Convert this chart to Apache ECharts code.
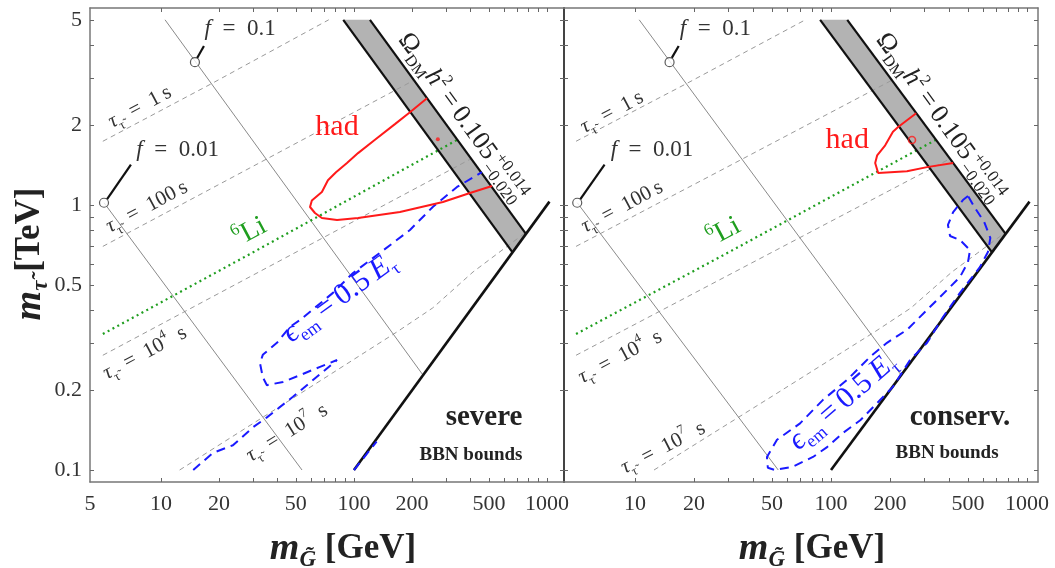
<!DOCTYPE html>
<html>
<head>
<meta charset="utf-8">
<script src="https://cdn.jsdelivr.net/npm/echarts@6.0.0/dist/echarts.min.js"></script>
<style>
html,body{margin:0;padding:0;background:#fff;}
#chart{width:1055px;height:568px;}
</style>
</head>
<body>
<div id="chart"></div>
<script>
// ---------------- data (x: gravitino mass in GeV, y: stau mass in TeV) ----------------
const X_TICK_LABELS = [5, 10, 20, 50, 100, 200, 500, 1000];
const Y_TICK_LABELS = [0.1, 0.2, 0.5, 1, 2, 5];
const X_TICKS = [10,20,30,40,50,60,70,80,90,100,200,300,400,500,600,700,800,900,1000];
const Y_TICKS = [0.1,0.2,0.3,0.4,0.5,0.6,0.7,0.8,0.9,1,2,3,4,5];

const TAU_1S   = [[5,1.74],[18.6,2.89],[74,5]];
const TAU_100S = [[5,0.698],[28.9,1.38],[205,2.96]];
const TAU_1E4S = [[5,0.271],[52.5,0.676],[408,1.50]];
const TAU_1E7S = [[12.5,0.1],[52.5,0.194],[167,0.332],[256,0.409],[414,0.559],[636,0.707],[769,0.784]];
const LI6      = [[5,0.326],[28.9,0.653],[342,1.76]];
const F_01     = [[10.5,5],[228,0.228]];
const F_001    = [[5.07,1.02],[53.8,0.1]];
const F_MARKS  = [[15.0,3.46],[5.07,1.02]];
const F_LEADER_01  = [[15.4,3.59],[16.7,3.98]];
const F_LEADER_001 = [[5.25,1.05],[6.99,1.42]];
const BAND      = [[88,5],[121,5],[778,0.778],[663,0.663]];
const BAND_LOW  = [[88,5],[663,0.663]];
const BAND_HIGH = [[121,5],[778,0.778]];
const KINEMATIC = [[100,0.1],[1030,1.03]];

const HAD_SEVERE = [[239,2.53],[195,2.24],[163,2.02],[128,1.76],[105,1.57],[92,1.44],[80.7,1.33],[73.3,1.24],[68.2,1.12],[60.5,1.04],[59.2,0.983],[62.8,0.933],[68.2,0.893],[81.7,0.878],[105,0.893],[173,0.941],[289,1.026],[399,1.11],[519,1.18]];
const HAD_SEVERE_DOT = [[272,1.77]];
const HAD_CONSERV = [[272,2.22],[220,1.97],[207,1.89],[189,1.68],[172,1.54],[168,1.44],[174,1.32],[244,1.34],[309,1.39],[420,1.44]];
const HAD_CONSERV_DOT = [[259,1.76]];

const EM_SEVERE_MAIN = [[14.7,0.1],[18.6,0.116],[23.6,0.124],[30.0,0.145],[35.4,0.158],[48.3,0.189],[81.7,0.260],[66.7,0.245],[52.5,0.228],[42.9,0.215],[35.4,0.209],[33.7,0.224],[32.6,0.253],[33.7,0.272],[39.9,0.302],[46.6,0.347],[52.5,0.368],[77.8,0.466],[98.9,0.554],[136,0.659],[195,0.805],[256,0.983],[342,1.17],[460,1.33]];
const EM_SEVERE_EDGE  = [[100,0.1],[131,0.128]];
const EM_CONSERV = [[500,1.081],[471,1.044],[420,0.941],[395,0.841],[405,0.764],[455,0.738],[512,0.676],[500,0.609],[455,0.535],[391,0.478],[309,0.402],[244,0.338],[193,0.302],[158,0.267],[121,0.219],[91,0.184],[69.5,0.150],[53,0.130],[47.1,0.112],[47.6,0.102],[51.8,0.1],[64,0.103],[80.9,0.112],[95.5,0.122],[115,0.138],[141,0.154],[172,0.179],[207,0.206],[253,0.260],[309,0.302],[373,0.378],[455,0.466],[575,0.583],[632,0.665],[650,0.751],[605,0.863],[543,0.974],[500,1.081]];

// ---------------- layout / style ----------------
const FONT = "'Liberation Serif','DejaVu Serif',serif";
const Y_MIN = 0.0901, Y_MAX = 5.54;
const PANELS = [
  {left: 90,  xMin: 4.29, xMax: 1225, showFive: true,  had: HAD_SEVERE,  hadDot: HAD_SEVERE_DOT, dotHollow: false,
   em: [EM_SEVERE_MAIN, EM_SEVERE_EDGE]},
  {left: 564, xMin: 4.34, xMax: 1138, showFive: false, had: HAD_CONSERV, hadDot: HAD_CONSERV_DOT, dotHollow: true,
   em: [EM_CONSERV]}
];
const TOP = 8, SIZE = 474;

const grids = [], xAxes = [], yAxes = [], series = [];
const PANEL_SERIES = [];
PANELS.forEach((P, p) => {
  grids.push({left: P.left, top: TOP, width: SIZE, height: SIZE, containLabel: false});
  const lblVals = X_TICK_LABELS.filter(v => P.showFive || v !== 5).map(v => v === 5 ? P.xMin * 1.0005 : v);
  const baseX = {type: 'log', logBase: 10, gridIndex: p, min: P.xMin, max: P.xMax, splitLine: {show: false},
    axisLine: {show: true, onZero: false, lineStyle: {color: '#777', width: 1.5}},
    axisTick: {show: true, inside: true, length: 4, customValues: X_TICKS, lineStyle: {color: '#666', width: 1}},
    minorTick: {show: false}};
  xAxes.push(Object.assign({}, baseX, {position: 'bottom',
    axisLabel: {show: true, customValues: lblVals, margin: 11, fontFamily: FONT, fontSize: 22, color: '#333',
      formatter: v => v < 6 ? '5' : String(+(+v).toPrecision(3))}}));
  xAxes.push(Object.assign({}, baseX, {position: 'top', axisLabel: {show: false}}));
  const baseY = {type: 'log', logBase: 10, gridIndex: p, min: Y_MIN, max: Y_MAX, splitLine: {show: false},
    axisTick: {show: true, inside: true, length: 4, customValues: Y_TICKS, lineStyle: {color: '#666', width: 1}},
    minorTick: {show: false}};
  yAxes.push(Object.assign({}, baseY, {position: 'left',
    axisLine: {show: true, onZero: false, lineStyle: {color: p === 1 ? '#444' : '#777', width: p === 1 ? 2 : 1.5}},
    axisLabel: {show: p === 0, customValues: Y_TICK_LABELS, margin: 8, fontFamily: FONT, fontSize: 22, color: '#333',
      formatter: v => String(+(+v).toPrecision(3))}}));
  yAxes.push(Object.assign({}, baseY, {position: 'right',
    axisLine: {show: true, onZero: false, lineStyle: {color: p === 0 ? '#444' : '#777', width: p === 0 ? 2 : 1.5}},
    axisLabel: {show: false}}));

  const xi = p * 2, yi = p * 2;
  const line = (data, ls, z) => ({type: 'line', xAxisIndex: xi, yAxisIndex: yi, data, symbol: 'none', showSymbol: false,
    lineStyle: ls, z: z, silent: true, animation: false, clip: true});
  PANEL_SERIES.push(series.length);
  series.push({type: 'custom', xAxisIndex: xi, yAxisIndex: yi, data: [BAND[0]], silent: true, z: 1, animation: false,
    renderItem: (params, api) => ({type: 'polygon', shape: {points: BAND.map(d => api.coord(d))}, style: {fill: '#b3b3b3'}})});
  const gd = {color: '#9a9a9a', width: 1, type: [5, 4]};
  [TAU_1S, TAU_100S, TAU_1E4S, TAU_1E7S].forEach(d => series.push(line(d, gd, 2)));
  [F_01, F_001].forEach(d => series.push(line(d, {color: '#8a8a8a', width: 1}, 2)));
  series.push(line(LI6, {color: '#1f9e1f', width: 2.2, type: [2, 3.5]}, 3));
  series.push(line(BAND_LOW,  {color: '#111', width: 2.2}, 4));
  series.push(line(BAND_HIGH, {color: '#111', width: 2.2}, 4));
  series.push(line(KINEMATIC, {color: '#111', width: 2.6}, 4));
  P.em.forEach(d => series.push(line(d, {color: '#1a1aff', width: 2, type: [9, 6]}, 5)));
  series.push(line(P.had, {color: '#ff1a1a', width: 2}, 6));
  series.push({type: 'scatter', xAxisIndex: xi, yAxisIndex: yi, data: P.hadDot, symbol: 'circle',
    symbolSize: P.dotHollow ? 7 : 4, silent: true, z: 6, animation: false,
    itemStyle: P.dotHollow ? {color: 'rgba(0,0,0,0)', borderColor: '#ff1a1a', borderWidth: 1.6} : {color: '#ff1a1a'}});
  [F_LEADER_01, F_LEADER_001].forEach(d => series.push(line(d, {color: '#111', width: 2.2}, 6)));
  series.push({type: 'scatter', xAxisIndex: xi, yAxisIndex: yi, data: F_MARKS, symbol: 'circle', symbolSize: 9,
    silent: true, z: 7, animation: false, itemStyle: {color: '#fff', borderColor: '#333', borderWidth: 1.2}});
});

const chart = echarts.init(document.getElementById('chart'), null, {renderer: 'canvas'});
chart.setOption({animation: false, backgroundColor: '#fff', grid: grids, xAxis: xAxes, yAxis: yAxes, series: series});

// ---------------- annotations ----------------
const measureCtx = document.createElement('canvas').getContext('2d');
function tw(str, font) { measureCtx.font = font; return measureCtx.measureText(str).width; }

const GRAYTXT = '#333';
const tauRich = {
  t: {fontFamily: FONT, fontSize: 21, lineHeight: 29, fill: GRAYTXT},
  i: {fontFamily: FONT, fontSize: 21, lineHeight: 29, fill: GRAYTXT, fontStyle: 'italic'},
  s: {fontFamily: FONT, fontSize: 13, lineHeight: 13, fill: GRAYTXT, verticalAlign: 'bottom'},
  p: {fontFamily: FONT, fontSize: 13, lineHeight: 13, fill: GRAYTXT, verticalAlign: 'top'}
};
const tauText = v => '{i|τ}{s|τ̃}{t|\u2002=\u2002' + v + '\u2009s}';
const tauTextExp = e => '{i|τ}{s|τ̃}{t|\u2002=\u200210}{p|' + e + '}{t|\u2002s}';

const ANN = [
  {key: 'tau1',   pos: [[7.78,2.34],[7.63,2.24]],  rot: [28,28], text: tauText('1'),   rich: tauRich},
  {key: 'tau100', pos: [[8.46,0.983],[8.59,0.983]], rot: [28,28], text: tauText('100'), rich: tauRich},
  {key: 'tau1e4', pos: [[8.26,0.276],[8.4,0.267]],  rot: [28,28], text: tauTextExp('4'), rich: tauRich},
  {key: 'tau1e7', pos: [[45,0.138],[13.9,0.121]],   rot: [32,27], text: tauTextExp('7'), rich: tauRich},
  {key: 'li6', pos: [[28.9,0.791],[28.4,0.791]], rot: [28,28], text: '{p|6}{t|Li}',
   rich: {t: {fontFamily: FONT, fontSize: 28, lineHeight: 34, fill: '#1f9e1f'}, p: {fontFamily: FONT, fontSize: 17, lineHeight: 17, fill: '#1f9e1f', verticalAlign: 'top'}}},
  {key: 'had', pos: [[81.7,1.97],[121,1.76]], rot: [0,0], text: '{t|had}',
   rich: {t: {fontFamily: FONT, fontSize: 30, fill: '#ff1a1a'}}},
  {key: 'f01', pos: [[25.7,4.62],[25.7,4.62]], rot: [0,0], text: '{i|f}{t|\u2002=\u20020.1}',
   rich: {t: {fontFamily: FONT, fontSize: 23, fill: GRAYTXT}, i: {fontFamily: FONT, fontSize: 23, fill: GRAYTXT, fontStyle: 'italic'}}},
  {key: 'f001', pos: [[12.2,1.62],[12.2,1.62]], rot: [0,0], text: '{i|f}{t|\u2002=\u20020.01}',
   rich: {t: {fontFamily: FONT, fontSize: 23, fill: GRAYTXT}, i: {fontFamily: FONT, fontSize: 23, fill: GRAYTXT, fontStyle: 'italic'}}},
  {key: 'eps', pos: [[84.5,0.446],[115,0.181]], rot: [36,41], text: '{i|ϵ}{s|em}{t|\u2009=\u20090.5\u2009}{i|E}{s|τ}',
   rich: {t: {fontFamily: FONT, fontSize: 30, lineHeight: 38, fill: '#1a1aff'}, i: {fontFamily: FONT, fontSize: 30, lineHeight: 38, fill: '#1a1aff', fontStyle: 'italic'},
          s: {fontFamily: FONT, fontSize: 18, lineHeight: 18, fill: '#1a1aff', verticalAlign: 'bottom'}}},
  {key: 'sev', pos: [[472,0.158],[455,0.158]], rot: [0,0], text: ['{b|severe}', '{b|conserv.}'],
   rich: {b: {fontFamily: FONT, fontSize: 29, fontWeight: 'bold', fill: '#222'}}},
  {key: 'bbn', pos: [[404,0.114],[391,0.116]], rot: [0,0], text: '{b|BBN bounds}',
   rich: {b: {fontFamily: FONT, fontSize: 19, fontWeight: 'bold', fill: '#222'}}}
];

const graphics = [];
function toPx(p, pt) { return chart.convertToPixel({seriesIndex: PANEL_SERIES[p]}, pt); }
ANN.forEach(a => {
  [0, 1].forEach(p => {
    const q = toPx(p, a.pos[p]);
    const text = Array.isArray(a.text) ? a.text[p] : a.text;
    graphics.push({type: 'text', x: q[0], y: q[1], rotation: a.rot[p] * Math.PI / 180, silent: true, z: 100,
      style: {text: text, rich: a.rich, align: 'center', verticalAlign: 'middle', fontFamily: FONT, fontSize: 20}});
  });
});

// Omega label (rotated along the upper edge of the relic-density band)
const OMEGA_ANCHOR = [180, 4.35];
[0, 1].forEach(p => {
  const q = toPx(p, OMEGA_ANCHOR);
  const fMain = "26px " + FONT, fSub = "16px " + FONT;
  const W = tw('Ω', fMain) + tw('DM', fSub) + tw('h', 'italic ' + fMain) + tw('2', fSub) + tw('\u2009=\u20090.105', fMain) + 3;
  graphics.push({type: 'group', x: q[0], y: q[1], rotation: -54 * Math.PI / 180, silent: true, z: 100, children: [
    {type: 'text', x: 0, y: 0, style: {text: '{o|Ω}{s|DM}{h|h}{p|2}{o|\u2009=\u20090.105}', align: 'left', verticalAlign: 'middle',
      rich: {o: {fontFamily: FONT, fontSize: 26, lineHeight: 34, fill: '#222'}, h: {fontFamily: FONT, fontSize: 26, lineHeight: 34, fill: '#222', fontStyle: 'italic'},
             s: {fontFamily: FONT, fontSize: 16, lineHeight: 16, fill: '#222', verticalAlign: 'bottom'},
             p: {fontFamily: FONT, fontSize: 16, lineHeight: 16, fill: '#222', verticalAlign: 'top'}}}},
    {type: 'text', x: W, y: -7, style: {text: '+0.014', align: 'left', verticalAlign: 'middle', fontFamily: FONT, fontSize: 17, fill: '#222'}},
    {type: 'text', x: W, y: 10, style: {text: '−0.020', align: 'left', verticalAlign: 'middle', fontFamily: FONT, fontSize: 17, fill: '#222'}}
  ]});
});

// axis titles
const titleRich = {
  m: {fontFamily: FONT, fontSize: 38, fontWeight: 'bold', fontStyle: 'italic', lineHeight: 46, fill: '#222'},
  s: {fontFamily: FONT, fontSize: 23, fontWeight: 'bold', fontStyle: 'italic', lineHeight: 23, fill: '#222', verticalAlign: 'bottom'},
  b: {fontFamily: FONT, fontSize: 35, fontWeight: 'bold', lineHeight: 46, fill: '#222'}
};
graphics.push({type: 'text', x: 30, y: 254, rotation: Math.PI / 2, silent: true, z: 100,
  style: {text: '{m|m}{s|τ̃}{b| [TeV]}', rich: titleRich, align: 'center', verticalAlign: 'middle'}});
[343, 812].forEach(cx => graphics.push({type: 'text', x: cx, y: 549, silent: true, z: 100,
  style: {text: '{m|m}{s|G̃}{b| [GeV]}', rich: titleRich, align: 'center', verticalAlign: 'middle'}}));

chart.setOption({graphic: graphics});
</script>
</body>
</html>
